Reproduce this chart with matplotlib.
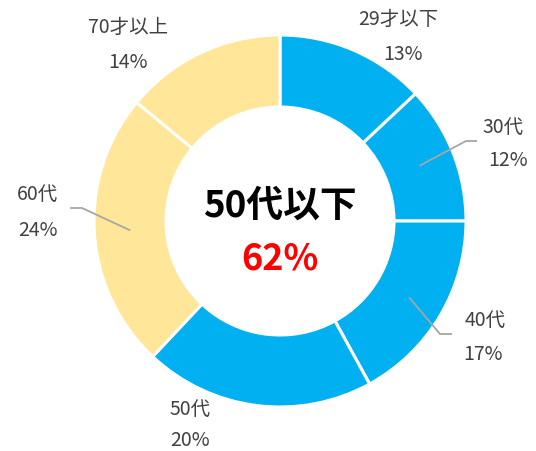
import numpy as np
import matplotlib.pyplot as plt

plt.rcParams['font.family'] = ['Noto Sans CJK JP', 'DejaVu Sans']

# data
labels = ['29才以下', '30代', '40代', '50代', '60代', '70才以上']
shares = [13, 12, 17, 20, 24, 14]
colors = ['#00B0F0', '#00B0F0', '#00B0F0', '#00B0F0', '#FFE699', '#FFE699']
center_title = '50代以下'
center_value = '62%'

W, H = 536, 451
CX, CY = 280, 221          # donut centre in pixel coords (y down)
R_OUT, RING = 186, 72


def py(y):
    # pixel y (top-down) -> data y (bottom-up)
    return H - y


fig = plt.figure(figsize=(W / 100, H / 100), dpi=100)
ax = fig.add_axes([0, 0, 1, 1])

wedges, _ = ax.pie(shares, colors=colors, startangle=90, counterclock=False,
                   radius=R_OUT, center=(CX, py(CY)),
                   wedgeprops=dict(width=RING, edgecolor='white', linewidth=2.2))
ax.set_xlim(0, W)
ax.set_ylim(0, H)
ax.set_aspect('equal')
ax.axis('off')

# label positions (pixel coords of the two text lines)
name_pos = [(398, 19), (503, 127), (485, 320), (190, 409), (37, 194), (128, 27)]
pct_pos = [(403, 54), (508, 161), (483, 355), (190, 441), (38, 230), (128, 62)]
# leader lines: index -> (elbow x, elbow y, end x)
leaders = {1: (466, 141, 477), 2: (440, 334, 452), 4: (82, 208, 70)}

txt = dict(color='#404040', fontsize=14, ha='center', va='center')
for i, (lab, val) in enumerate(zip(labels, shares)):
    ax.text(name_pos[i][0], py(name_pos[i][1]), lab, **txt)
    ax.text(pct_pos[i][0], py(pct_pos[i][1]), f'{val}%', **txt)
    if i in leaders:
        w = wedges[i]
        mid = np.deg2rad((w.theta1 + w.theta2) / 2)
        rm = R_OUT - RING / 2
        sx = CX + rm * np.cos(mid)
        sy = py(CY) + rm * np.sin(mid)
        ex, ey, tx = leaders[i]
        ax.plot([sx, ex, tx], [sy, py(ey), py(ey)], color='#A6A6A6', lw=1.3,
                solid_capstyle='butt')

ax.text(CX, py(206), center_title, fontsize=26.5, fontweight='bold',
        color='black', ha='center', va='center')
ax.text(CX, py(259), center_value, fontsize=26, fontweight='bold',
        color='#FF0000', ha='center', va='center')

fig.savefig('out.png', dpi=100)
